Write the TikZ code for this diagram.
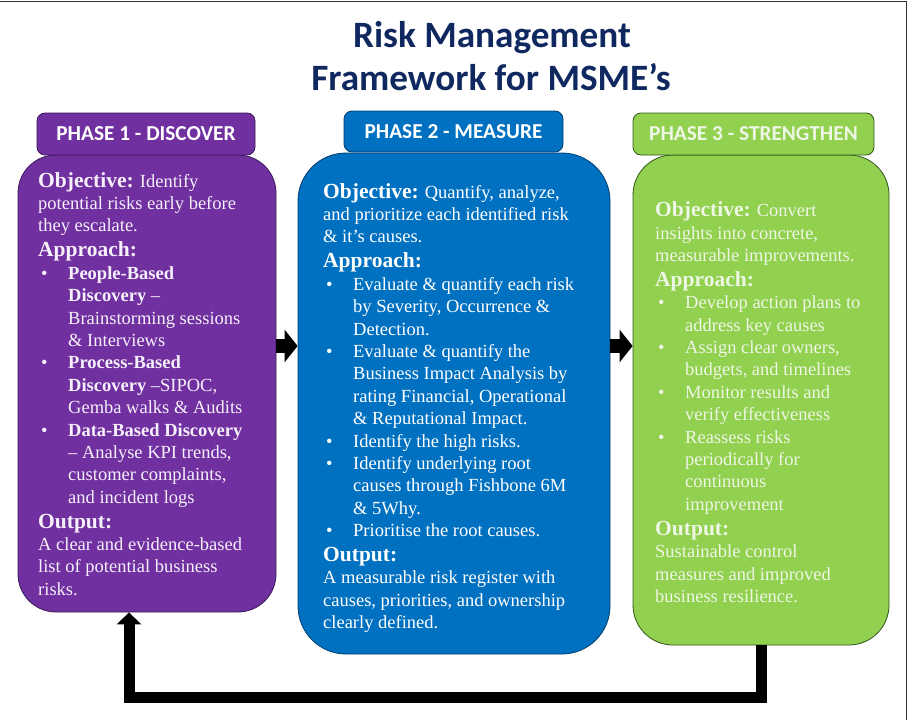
\documentclass[tikz,border=0pt]{standalone}
\usepackage{fontspec}
\setmainfont{Liberation Serif}
\newfontfamily\calib{Carlito}
\usetikzlibrary{arrows.meta,calc}
\definecolor{pur}{RGB}{112,48,160}
\definecolor{purd}{RGB}{60,25,90}
\definecolor{blu}{RGB}{0,112,192}
\definecolor{blud}{RGB}{0,60,110}
\definecolor{grn}{RGB}{146,208,80}
\definecolor{grnd}{RGB}{50,85,25}
\definecolor{navy}{RGB}{16,40,96}
\definecolor{ptext}{RGB}{246,240,250}
\definecolor{gtext}{RGB}{238,246,228}
\newcommand\hd[1]{{\fontsize{21.5}{22.4}\selectfont\bfseries #1}}
\newcommand\bl[1]{\makebox[30pt][l]{\hspace{3pt}•}#1}
\newcommand\ii[1]{\hspace*{30pt}#1}
\begin{document}
\begin{tikzpicture}[x=1pt,y=-1pt,
  hdr/.style={draw, line width=0.8pt, rounded corners=8pt, inner sep=0pt,
    font=\calib\bfseries\fontsize{21.3}{25}\selectfont},
  bodybox/.style={draw, line width=0.8pt},
  txt/.style={anchor=north west, inner sep=0pt, align=left,
    font=\fontsize{18.5}{22.4}\selectfont},
  ttl/.style={anchor=base, inner sep=0pt, text=navy,
    font=\calib\bfseries\fontsize{37.2}{43}\selectfont},
  blk/.style={line width=14pt, -{Triangle[length=13pt,width=32pt]}},
  fbk/.style={line width=11pt, -{Triangle[length=12pt,width=24pt]}},
]
\useasboundingbox (0,0) rectangle (910,720);
\fill[white] (0,0) rectangle (910,720);
\draw[line width=1pt, black!80] (0,1) -- (906,1) -- (906,720);

\node[ttl] (title1) at (492,47) {Risk Management};
\node[ttl] (title2) at (491,90) {Framework for MSME’s};

% bodies
\node[bodybox, fill=pur, draw=purd, minimum width=258pt, minimum height=457pt,
  rounded corners=38pt] (b1) at (147,383.5) {};
\node[bodybox, fill=blu, draw=blud, minimum width=312pt, minimum height=501pt,
  rounded corners=48pt] (b2) at (454,403.5) {};
\node[bodybox, fill=grn, draw=grnd, minimum width=256pt, minimum height=490pt,
  rounded corners=40pt] (b3) at (761,400) {};

% headers
\node[hdr, fill=pur, draw=purd, text=white, minimum width=218pt, minimum height=42pt]
  (h1) at (146,134) {PHASE 1 - DISCOVER};
\node[hdr, fill=blu, draw=blud, text=white, minimum width=219pt, minimum height=41pt]
  (h2) at (453.5,131.5) {PHASE 2 - MEASURE};
\node[hdr, fill=grn, draw=grnd, text=gtext, minimum width=241pt, minimum height=42pt]
  (h3) at (753.5,134) {PHASE 3 - STRENGTHEN};

% texts
\node[txt, text=ptext] (t1) at (38,172) {%
\hd{Objective:} Identify\\
potential risks early before\\
they escalate.\\[2.5pt]
\hd{Approach:}\\
\bl{\textbf{People-Based}}\\
\ii{\textbf{Discovery} –}\\
\ii{Brainstorming sessions}\\
\ii{\& Interviews}\\
\bl{\textbf{Process-Based}}\\
\ii{\textbf{Discovery} –SIPOC,}\\
\ii{Gemba walks \& Audits}\\
\bl{\textbf{Data-Based Discovery}}\\
\ii{– Analyse KPI trends,}\\
\ii{customer complaints,}\\
\ii{and incident logs}\\[2.5pt]
\hd{Output:}\\
A clear and evidence-based\\
list of potential business\\
risks.};

\node[txt, text=white] (t2) at (323,183) {%
\hd{Objective:} Quantify, analyze,\\
and prioritize each identified risk\\
\& it’s causes.\\[2.5pt]
\hd{Approach:}\\
\bl{Evaluate \& quantify each risk}\\
\ii{by Severity, Occurrence \&}\\
\ii{Detection.}\\
\bl{Evaluate \& quantify the}\\
\ii{Business Impact Analysis by}\\
\ii{rating Financial, Operational}\\
\ii{\& Reputational Impact.}\\
\bl{Identify the high risks.}\\
\bl{Identify underlying root}\\
\ii{causes through Fishbone 6M}\\
\ii{\& 5Why.}\\
\bl{Prioritise the root causes.}\\[2.5pt]
\hd{Output:}\\
A measurable risk register with\\
causes, priorities, and ownership\\
clearly defined.};

\node[txt, text=gtext] (t3) at (655,201.5) {%
\hd{Objective:} Convert\\
insights into concrete,\\
measurable improvements.\\[2.5pt]
\hd{Approach:}\\
\bl{Develop action plans to}\\
\ii{address key causes}\\
\bl{Assign clear owners,}\\
\ii{budgets, and timelines}\\
\bl{Monitor results and}\\
\ii{verify effectiveness}\\
\bl{Reassess risks}\\
\ii{periodically for}\\
\ii{continuous}\\
\ii{improvement}\\[2.5pt]
\hd{Output:}\\
Sustainable control\\
measures and improved\\
business resilience.};

% connectors
\coordinate (ay) at (0,346);
\coordinate (fb) at (129,697);
\draw[blk] (b1.east |- ay) -- (b2.west |- ay);
\draw[blk] (b2.east |- ay) -- (b3.west |- ay);
\draw[fbk] (b3.south) |- (fb) -- (fb |- b1.south);
\end{tikzpicture}
\end{document}
